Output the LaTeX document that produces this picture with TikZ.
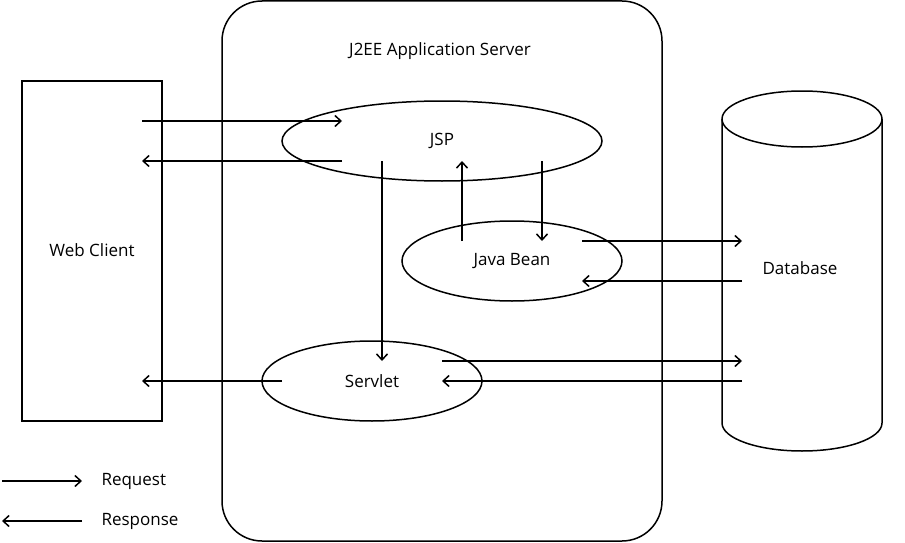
\documentclass[tikz,border=0pt]{standalone}
\usepackage{fontspec}
\setmainfont{Open Sans}
\usetikzlibrary{shapes.geometric,arrows.meta}
\tikzset{
  box/.style={draw, line width=1.5pt},
  oval/.style={draw, ellipse, line width=1.5pt, inner sep=0pt},
  flow/.style={line width=1.5pt, -{Straight Barb[length=6pt,width=11pt]}},
  lbl/.style={font=\fontsize{17}{20}\selectfont}
}
\begin{document}
\begin{tikzpicture}[x=1pt, y=-1pt]
            \useasboundingbox (0, 0) rectangle (905, 543);

            \draw[box, rounded corners=40pt] (222, 1) rectangle (662, 541);
            \node[lbl] (server) at (440, 51) {J2EE Application Server};
            \draw[box] (22, 81) rectangle (162, 421);
            \node[lbl] (client) at (92, 250) {Web Client};

            \node[oval, lbl, minimum width=320pt, minimum height=80pt] (jsp) at (442, 141) {JSP};
            \node[oval, lbl, minimum width=220pt, minimum height=80pt] (bean) at (512, 261) {Java Bean};
            \node[oval, lbl, minimum width=220pt, minimum height=80pt] (servlet) at (372, 381) {Servlet};

            \draw[box] (722, 119) -- (722, 423) arc (180:0:80 and 28) -- (882, 119) arc (0:-180:80 and 28);
            \draw[box] (722, 119) arc (180:0:80 and 28);
            \node[lbl] (db) at (800, 268) {Database};

            \coordinate (C1) at (142, 121);
            \coordinate (J1) at (342, 121);
            \coordinate (J2) at (342, 161);
            \coordinate (C2) at (142, 161);
            \coordinate (J3) at (382, 161);
            \coordinate (S1) at (382, 361);
            \coordinate (B1) at (462, 241);
            \coordinate (J4) at (462, 161);
            \coordinate (J5) at (542, 161);
            \coordinate (B2) at (542, 241);
            \coordinate (B3) at (582, 241);
            \coordinate (D1) at (742, 241);
            \coordinate (D2) at (742, 281);
            \coordinate (B4) at (582, 281);
            \coordinate (S2) at (442, 361);
            \coordinate (D3) at (742, 361);
            \coordinate (D4) at (742, 381);
            \coordinate (S3) at (442, 381);
            \coordinate (S4) at (282, 381);
            \coordinate (C3) at (142, 381);

            \draw[flow] (C1) -- (J1);
            \draw[flow] (J2) -- (C2);
            \draw[flow] (J3) -- (S1);
            \draw[flow] (B1) -- (J4);
            \draw[flow] (J5) -- (B2);
            \draw[flow] (B3) -- (D1);
            \draw[flow] (D2) -- (B4);
            \draw[flow] (S2) -- (D3);
            \draw[flow] (D4) -- (S3);
            \draw[flow] (S4) -- (C3);

            % legend
            \coordinate (L1) at (2, 481);
            \coordinate (L2) at (82, 481);
            \coordinate (L3) at (82, 521);
            \coordinate (L4) at (2, 521);
            \draw[flow] (L1) -- (L2);
            \draw[flow] (L3) -- (L4);
            \node[lbl, anchor=west] (req) at (98, 481) {Request};
            \node[lbl, anchor=west] (resp) at (98, 521) {Response};
        \end{tikzpicture}
\end{document}
